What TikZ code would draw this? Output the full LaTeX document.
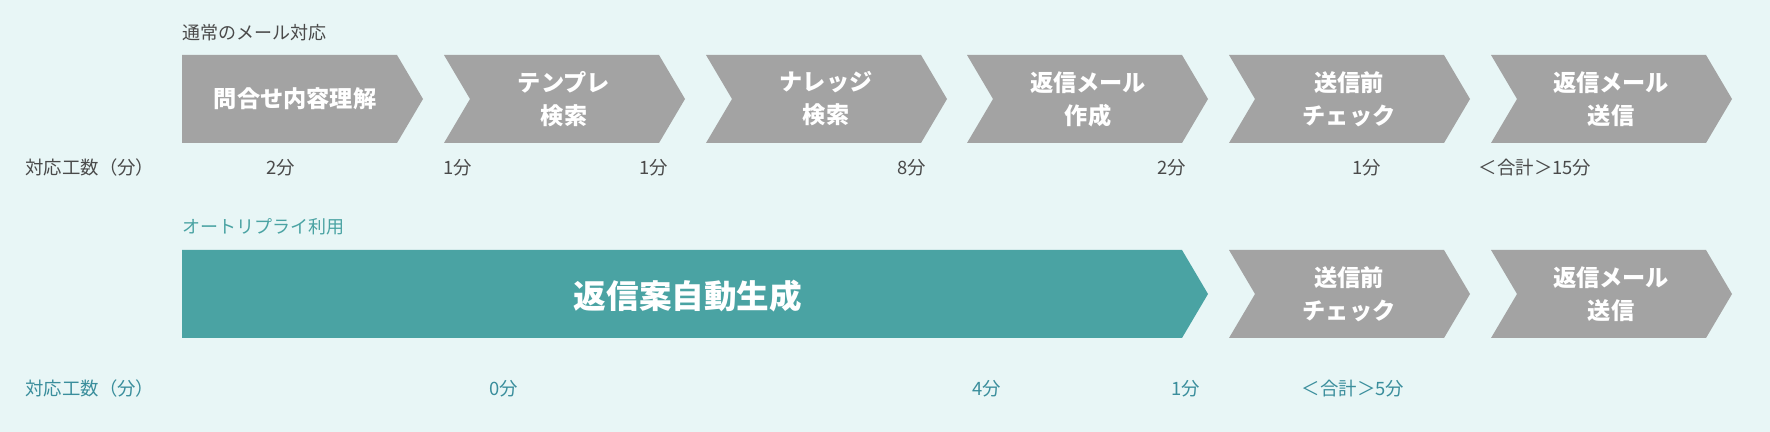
\documentclass[tikz,border=0pt]{standalone}
\usepackage{fontspec}
\setmainfont{Noto Sans CJK JP}
\usetikzlibrary{
  positioning % for relative placement of the labels
}
\definecolor{bgcyan}{HTML}{E8F6F6}
\definecolor{stepgray}{HTML}{A3A3A3}
\definecolor{autoteal}{HTML}{4AA3A3}
\definecolor{labelgray}{HTML}{4A4A4A}
\definecolor{labelteal}{HTML}{3A8E9C}
% one step of the flow: [colour]{left x}{top y}{body width}{notch depth}
\newcommand{\stepchevron}[5][stepgray]{%
  \fill[#1] (#2,#3) -- ++(#4,0) -- ++(26,44) -- ++(-26,44) -- ++(-#4,0) -- ++(#5,-44) -- cycle;}
\tikzset{
  steptext/.style={ % style for the text inside each step
    text=white, % white on the filled shape
    font=\bfseries\fontsize{11.6}{16.5}\selectfont,
    align=center, % two lines centred
    inner sep=0pt,
  },
  autotext/.style={ % style for the long automated step
    steptext, % inherit the step text style
    font=\bfseries\fontsize{16.3}{20}\selectfont,
  },
  rowtitle/.style={ % style for the title above each row
    font=\fontsize{9}{11}\selectfont,
    anchor=west, inner sep=0pt,
  },
  cost/.style={ % style for the minutes below the steps
    font=\fontsize{9.2}{11}\selectfont,
    inner sep=0pt,
  },
}
\begin{document}
\begin{tikzpicture}[x=0.5pt,y=-0.5pt]
  \fill[bgcyan] (0,0) rectangle (1770,432);
  % normal handling
  \stepchevron{182}{55}{215}{0}
  \foreach \x in {444,706,967,1229,1491}{\stepchevron{\x}{55}{215}{26}}
  \node[rowtitle, text=labelgray] (t1) at (182,33) {通常のメール対応};
  \node[steptext] (s1) at (295,99) {問合せ内容理解};
  \node[steptext] (s2) at (564,99) {テンプレ\\検索};
  \node[steptext] (s3) at (826,99) {ナレッジ\\検索};
  \node[steptext] (s4) at (1088,99) {返信メール\\作成};
  \node[steptext] (s5) at (1349,99) {送信前\\チェック};
  \node[steptext] (s6) at (1611,99) {返信メール\\送信};
  \node[cost, text=labelgray, anchor=west] (c1) at (25,168) {対応工数（分）};
  \node[cost, text=labelgray] (m1) at (281,168) {2分};
  \node[cost, text=labelgray] (m2) at (458,168) {1分};
  \node[cost, text=labelgray] (m3) at (654,168) {1分};
  \node[cost, text=labelgray] (m4) at (912,168) {8分};
  \node[cost, text=labelgray] (m5) at (1172,168) {2分};
  \node[cost, text=labelgray] (m6) at (1367,168) {1分};
  \node[cost, text=labelgray] (m7) at (1535,168) {＜合計＞15分};
  % with auto reply
  \stepchevron[autoteal]{182}{250}{1000}{0}
  \foreach \x in {1229,1491}{\stepchevron{\x}{250}{215}{26}}
  \node[rowtitle, text=autoteal] (t2) at (182,227) {オートリプライ利用};
  \node[autotext] (a1) at (688,296) {返信案自動生成};
  \node[steptext] (a2) at (1349,294) {送信前\\チェック};
  \node[steptext] (a3) at (1611,294) {返信メール\\送信};
  \node[cost, text=labelteal, anchor=west] (c2) at (25,389) {対応工数（分）};
  \node[cost, text=labelteal] (r1) at (504,389) {0分};
  \node[cost, text=labelteal] (r2) at (987,389) {4分};
  \node[cost, text=labelteal] (r3) at (1186,389) {1分};
  \node[cost, text=labelteal] (r4) at (1353,389) {＜合計＞5分};
\end{tikzpicture}
\end{document}
